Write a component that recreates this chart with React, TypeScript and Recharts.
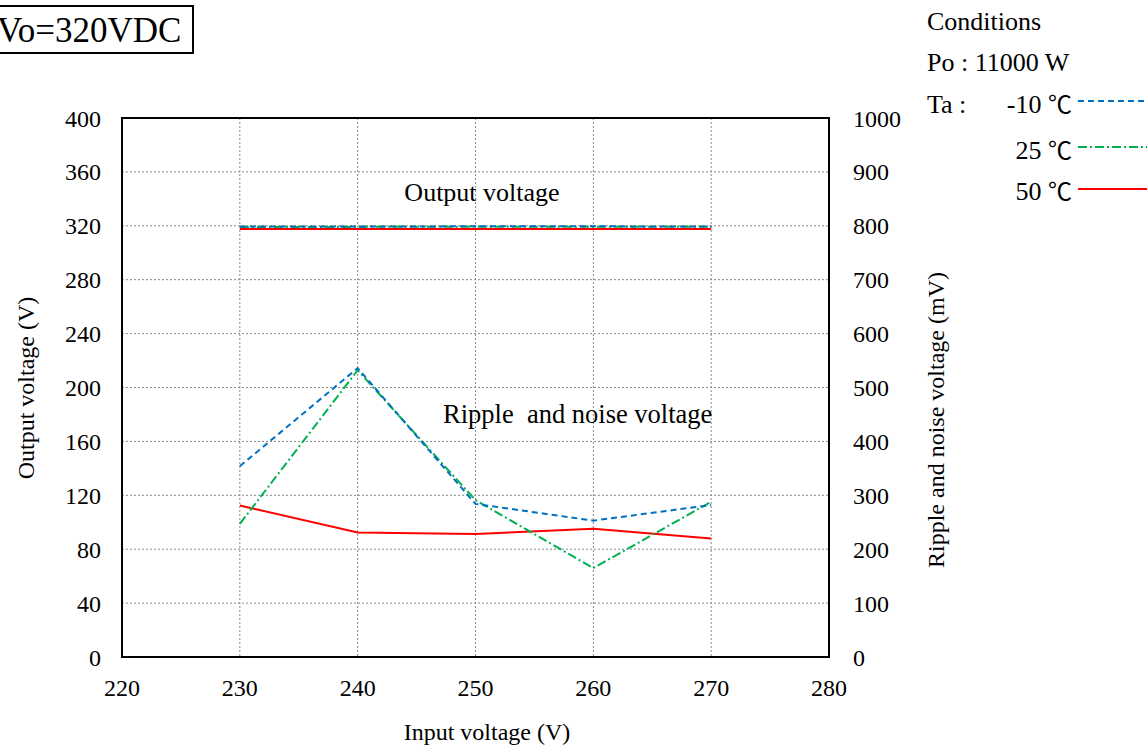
import React from 'react';
import { LineChart, Line, XAxis, YAxis, CartesianGrid, ReferenceArea } from 'recharts';

const inputVoltage = [230, 240, 250, 260, 270];
const outM10 = [319.5, 319.5, 319.6, 319.6, 319.5];
const out25 = [319.2, 319.2, 319.3, 319.3, 319.2];
const out50 = [317.6, 317.6, 317.6, 317.6, 317.6];
const ripM10 = [354, 536, 284, 253, 282];
const rip25 = [247, 532, 291, 165, 288];
const rip50 = [281, 231, 228, 238, 220];

const xTicks = [220, 230, 240, 250, 260, 270, 280];
const leftTicks = [0, 40, 80, 120, 160, 200, 240, 280, 320, 360, 400];
const rightTicks = [0, 100, 200, 300, 400, 500, 600, 700, 800, 900, 1000];

const data = inputVoltage.map((v, i) => ({
  vin: v,
  outM10: outM10[i],
  out25: out25[i],
  out50: out50[i],
  ripM10: ripM10[i],
  rip25: rip25[i],
  rip50: rip50[i],
}));

const FONT = '"Liberation Serif", "Times New Roman", serif';
const CJK = '"Noto Sans CJK JP", "Liberation Serif", serif';
const tickStyle = { fontFamily: FONT, fontSize: 24, fill: '#000' };

const BLUE = '#0070C0';
const GREEN = '#00B050';
const RED = '#FF0000';
const DASH_BLUE = '6 4';
const DASH_GREEN = '9 3 2 3';

export default function App() {
  return (
    <div style={{ position: 'absolute', left: 0, top: 0, width: 1147, height: 745, background: '#fff' }}>
      <LineChart
        width={1147}
        height={745}
        data={data}
        margin={{ top: 118, right: 258, bottom: 58, left: 62 }}
      >
        <CartesianGrid stroke="#888" strokeDasharray="2 2" yAxisId="left" />
        <XAxis
          dataKey="vin"
          type="number"
          domain={[220, 280]}
          ticks={xTicks}
          height={30}
          tickSize={0}
          tickMargin={22}
          axisLine={{ stroke: '#000', strokeWidth: 2 }}
          tick={tickStyle}
        />
        <YAxis
          yAxisId="left"
          domain={[0, 400]}
          ticks={leftTicks}
          width={60}
          tickSize={0}
          tickMargin={21}
          axisLine={{ stroke: '#000', strokeWidth: 2 }}
          tick={tickStyle}
        />
        <YAxis
          yAxisId="right"
          orientation="right"
          domain={[0, 1000]}
          ticks={rightTicks}
          width={60}
          tickSize={0}
          tickMargin={24}
          axisLine={{ stroke: '#000', strokeWidth: 2 }}
          tick={{ ...tickStyle, textAnchor: 'start' }}
        />
        <ReferenceArea yAxisId="left" x1={220} x2={280} y1={0} y2={400} fill="none" stroke="#000" strokeWidth={2} />
        <Line yAxisId="left" dataKey="out50" stroke={RED} strokeWidth={2} dot={false} isAnimationActive={false} />
        <Line yAxisId="left" dataKey="out25" stroke={GREEN} strokeWidth={2} strokeDasharray={DASH_GREEN} dot={false} isAnimationActive={false} />
        <Line yAxisId="left" dataKey="outM10" stroke={BLUE} strokeWidth={2} strokeDasharray={DASH_BLUE} dot={false} isAnimationActive={false} />
        <Line yAxisId="right" dataKey="rip50" stroke={RED} strokeWidth={2} dot={false} isAnimationActive={false} />
        <Line yAxisId="right" dataKey="rip25" stroke={GREEN} strokeWidth={2} strokeDasharray={DASH_GREEN} dot={false} isAnimationActive={false} />
        <Line yAxisId="right" dataKey="ripM10" stroke={BLUE} strokeWidth={2} strokeDasharray={DASH_BLUE} dot={false} isAnimationActive={false} />
      </LineChart>
      <svg
        width={1147}
        height={745}
        style={{ position: 'absolute', left: 0, top: 0, pointerEvents: 'none' }}
        fontFamily={FONT}
      >
        <rect x={-10} y={6} width={203} height={47} fill="none" stroke="#000" strokeWidth={2} />
        <text x={-3} y={42} fontSize={35} fill="#000">Vo=320VDC</text>

        <text x={482} y={201} fontSize={26} textAnchor="middle" fill="#000">Output voltage</text>
        <text x={443} y={423} fontSize={26.5} fill="#000" xmlSpace="preserve" style={{ whiteSpace: 'pre' }}>Ripple  and noise voltage</text>

        <text x={487} y={740} fontSize={24} textAnchor="middle" fill="#000">Input voltage (V)</text>
        <text transform="translate(34,388) rotate(-90)" fontSize={24} textAnchor="middle" fill="#000">Output voltage (V)</text>
        <text transform="translate(944,420) rotate(-90)" fontSize={24} textAnchor="middle" fill="#000">Ripple and noise voltage (mV)</text>

        <text x={927} y={30} fontSize={26} fill="#000">Conditions</text>
        <text x={927} y={71} fontSize={26} fill="#000">Po : 11000 W</text>
        <text x={927} y={113} fontSize={26} fill="#000">Ta :</text>
        <text x={1072} y={113} fontSize={26} textAnchor="end" fill="#000">-10 <tspan fontFamily={CJK} fontSize={24}>℃</tspan></text>
        <text x={1072} y={159} fontSize={26} textAnchor="end" fill="#000">25 <tspan fontFamily={CJK} fontSize={24}>℃</tspan></text>
        <text x={1072} y={200} fontSize={26} textAnchor="end" fill="#000">50 <tspan fontFamily={CJK} fontSize={24}>℃</tspan></text>
        <line x1={1078} x2={1147} y1={101} y2={101} stroke={BLUE} strokeWidth={2} strokeDasharray={DASH_BLUE} />
        <line x1={1078} x2={1147} y1={147} y2={147} stroke={GREEN} strokeWidth={2} strokeDasharray={DASH_GREEN} />
        <line x1={1078} x2={1147} y1={189} y2={189} stroke={RED} strokeWidth={2} />
      </svg>
    </div>
  );
}
